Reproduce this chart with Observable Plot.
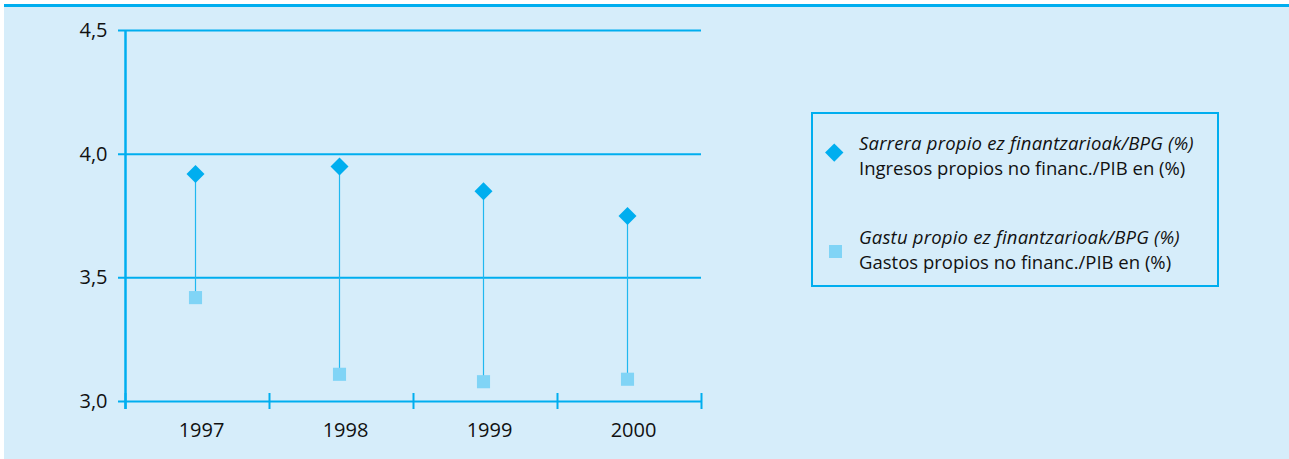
<!DOCTYPE html>
<html>
<head>
<meta charset="utf-8">
<script src="https://cdn.jsdelivr.net/npm/d3@7"></script>
<script src="https://cdn.jsdelivr.net/npm/@observablehq/plot@0.6"></script>
<style>
  html, body { margin: 0; padding: 0; background: #fff; }
  #wrap { position: relative; width: 1289px; height: 459px; overflow: hidden; font-family: "Open Sans", "Noto Sans", sans-serif; color: #111; }
  #bg { position: absolute; left: 4px; top: 4px; width: 1285px; height: 455px; background: #d6edfa; border-top: 3px solid #00aeef; box-sizing: border-box; }
  #chart { position: absolute; left: 0; top: 0; }
  #legend { position: absolute; left: 811px; top: 112px; width: 408px; height: 175px; border: 2px solid #00aeef; box-sizing: border-box; }
  .item { position: absolute; left: 46px; font-size: 18.5px; line-height: 25px; white-space: nowrap; }
  .item .it { font-style: italic; letter-spacing: 0.2px; }
  .sym { position: absolute; }
</style>
</head>
<body>
<div id="wrap">
  <div id="bg"></div>
  <div id="chart"></div>
  <div id="legend"></div>
</div>
<script>
const years = ["1997", "1998", "1999", "2000"];
const ingresos = [3.92, 3.95, 3.85, 3.75];   // Sarrera propio ez finantzarioak/BPG (%)
const gastos = [3.42, 3.11, 3.08, 3.09];     // Gastu propio ez finantzarioak/BPG (%)
const yTicks = [3.0, 3.5, 4.0, 4.5];
const legendBasque = ["Sarrera propio ez finantzarioak/BPG (%)", "Gastu propio ez finantzarioak/BPG (%)"];
const legendSpanish = ["Ingresos propios no financ./PIB en (%)", "Gastos propios no financ./PIB en (%)"];

const blue = "#00aeef";
const light = "#80d4f6";
const stem = "#1fb8f0";

const data = years.map((y, i) => ({ year: y, pos: i + 0.5, ing: ingresos[i], gas: gastos[i] }));
const bounds = d3.range(years.length + 1);

const chart = Plot.plot({
  width: 1289,
  height: 459,
  marginLeft: 125,
  marginRight: 588,
  marginTop: 30,
  marginBottom: 58,
  style: { background: "transparent", fontFamily: "'Open Sans', 'Noto Sans', sans-serif", fontSize: "20px", color: "#111", overflow: "visible" },
  x: { domain: [0, years.length], axis: null, label: null },
  y: { domain: [3, 4.5], axis: null, label: null },
  marks: [
    Plot.ruleY(yTicks, { stroke: blue, strokeWidth: 2, insetLeft: -7 }),
    Plot.ruleX([0], { stroke: blue, strokeWidth: 2.5, insetBottom: -8 }),
    Plot.axisX({ ticks: bounds, tickFormat: () => "", tickSize: 16, dy: -8, stroke: blue, strokeWidth: 2, label: null }),
    Plot.axisX({ ticks: data.map(d => d.pos), tickFormat: d => years[Math.floor(d)], tickSize: 0, tickPadding: 21, dx: 4, fontSize: 20, label: null }),
    Plot.axisY({ ticks: yTicks, tickFormat: d => d.toFixed(1).replace(".", ","), tickSize: 0, tickPadding: 18, fontSize: 20, label: null }),
    Plot.ruleX(data, { x: "pos", y1: "gas", y2: "ing", stroke: stem, strokeWidth: 1.2, dx: -2 }),
    Plot.dot(data, { x: "pos", y: "gas", symbol: "square", r: 7.4, fill: light, dx: -2 }),
    Plot.dot(data, { x: "pos", y: "ing", symbol: "diamond2", r: 8.1, fill: blue, dx: -2 })
  ]
});
document.getElementById("chart").appendChild(chart);

const legend = document.getElementById("legend");
const items = [
  { top: 16, sym: "diamond", color: blue },
  { top: 110, sym: "square", color: light }
];
items.forEach((it, i) => {
  const div = document.createElement("div");
  div.className = "item";
  div.style.top = it.top + "px";
  div.innerHTML = `<div class="it">${legendBasque[i]}</div><div>${legendSpanish[i]}</div>`;
  legend.appendChild(div);
  const s = document.createElement("div");
  s.className = "sym";
  if (it.sym === "diamond") {
    s.style.width = "12.5px"; s.style.height = "12.5px";
    s.style.left = "15px"; s.style.top = "32px";
    s.style.transform = "rotate(45deg)";
  } else {
    s.style.width = "13px"; s.style.height = "13px";
    s.style.left = "16px"; s.style.top = "131px";
  }
  s.style.background = it.color;
  legend.appendChild(s);
});
</script>
</body>
</html>
